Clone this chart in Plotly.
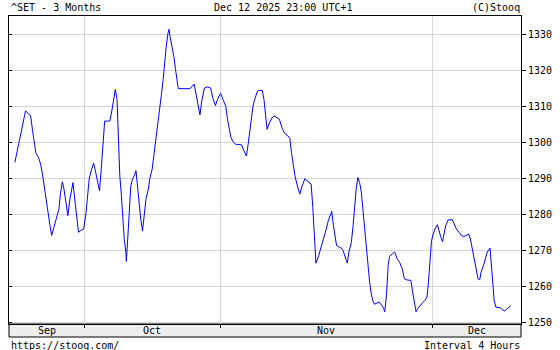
import plotly.graph_objects as go

# ---- data ----
# bar position (one unit = one 4-hour bar, first bar = 0) and index level
bar = [0.0, 3.1, 3.5, 4.6, 5.1, 5.7, 6.1, 6.9, 7.5, 8.1, 8.8, 9.5, 10.2, 10.7, 11.4,
       12.1, 12.8, 13.3, 13.8, 14.3, 14.9, 15.4, 16.0, 16.9, 17.3, 18.0, 18.5, 19.2,
       20.0, 20.7, 21.1, 21.6, 22.3, 22.9, 23.5, 24.2, 24.6, 25.1, 25.6, 26.1, 26.9,
       27.6, 28.0, 28.5, 28.9, 29.2, 29.7, 30.0, 30.5, 30.9, 31.3, 31.8, 32.3, 32.4,
       32.8, 33.2, 33.7, 34.2, 34.8, 35.2, 35.6, 36.1, 36.6, 37.1, 37.5, 38.1, 38.8,
       39.2, 39.9, 40.4, 40.9, 41.6, 42.1, 42.6, 43.1, 43.5, 44.0, 44.5, 44.8, 45.1,
       45.7, 46.2, 46.7, 47.1, 47.5, 50.9, 52.1, 52.6, 53.2, 53.8, 54.3, 55.1, 56.0,
       56.9, 57.5, 58.3, 58.9, 59.8, 60.5, 61.3, 61.8, 62.3, 62.8, 63.5, 64.2, 64.9,
       65.9, 66.6, 67.3, 67.8, 68.3, 68.8, 69.2, 69.7, 70.5, 71.1, 71.9, 72.4, 72.9,
       73.3, 74.0, 74.7, 75.4, 76.2, 76.9, 77.3, 77.8, 78.5, 79.2, 79.9, 80.4, 80.9,
       81.4, 82.1, 82.8, 83.5, 84.3, 84.9, 85.6, 86.1, 86.6, 87.1, 87.5, 88.3, 88.9,
       89.7, 90.5, 91.1, 92.1, 92.6, 93.1, 93.5, 94.3, 94.9, 95.4, 95.9, 96.6, 97.1,
       97.8, 98.3, 98.8, 99.2, 99.7, 100.2, 100.7, 101.1, 101.6, 102.1, 102.6, 103.1,
       103.5, 104.0, 104.5, 105.1, 105.9, 106.6, 107.1, 107.5, 108.0, 108.5, 108.9,
       109.7, 110.4, 111.1, 111.8, 112.6, 113.2, 113.7, 114.5, 115.1, 115.6, 116.1,
       116.6, 117.1, 117.8, 118.5, 119.2, 119.8, 120.2, 120.7, 121.1, 121.6, 122.1,
       122.8, 123.3, 123.8, 124.3, 124.8, 125.2, 125.9, 126.7, 127.1, 127.7, 128.3,
       129.1, 129.8, 130.5, 131.2, 131.9, 132.4, 132.9, 133.6, 134.1, 134.6, 135.1,
       135.5, 136.2, 136.8, 137.3, 138.1, 138.4, 138.9, 139.3, 139.8, 140.3, 141.1,
       141.7, 142.4, 142.9, 143.6, 144.1]

value = [1294.5, 1308.8, 1308.5, 1307.4, 1303.7, 1299.0, 1297.2, 1295.8, 1294.0, 1290.8,
         1286.2, 1280.6, 1277.0, 1274.2, 1276.5, 1278.8, 1281.5, 1286.2, 1289.1, 1287.0,
         1282.5, 1279.7, 1284.3, 1288.9, 1285.2, 1279.2, 1275.1, 1275.6, 1276.0, 1280.6,
         1285.2, 1289.9, 1292.6, 1294.3, 1291.7, 1288.9, 1286.6, 1292.6, 1300.0, 1306.0,
         1306.0, 1306.0, 1307.8, 1311.0, 1313.4, 1314.8, 1312.0, 1301.4, 1290.8, 1286.2,
         1279.2, 1273.2, 1269.1, 1267.0, 1273.2, 1281.0, 1288.0, 1289.9, 1291.0, 1292.2,
         1288.0, 1282.5, 1278.8, 1275.4, 1278.8, 1284.3, 1287.1, 1289.9, 1292.6, 1296.3,
         1300.0, 1304.6, 1309.2, 1313.4, 1317.5, 1322.1, 1326.8, 1330.4, 1331.5, 1329.5,
         1326.8, 1324.0, 1320.3, 1317.5, 1315.0, 1315.0, 1316.3, 1313.8, 1310.1, 1307.7,
         1311.5, 1315.2, 1315.5, 1315.2, 1312.5, 1310.3, 1312.0, 1313.7, 1312.0, 1310.1,
         1306.5, 1303.7, 1301.4, 1300.2, 1299.5, 1299.5, 1299.4, 1297.7, 1296.3, 1299.5,
         1303.7, 1307.8, 1310.1, 1312.0, 1314.3, 1314.5, 1314.5, 1312.0, 1307.4, 1303.7,
         1305.5, 1306.9, 1307.4, 1307.0, 1306.5, 1305.1, 1303.7, 1302.5, 1301.8, 1301.4,
         1297.2, 1293.5, 1290.8, 1288.0, 1285.7, 1288.0, 1290.0, 1289.4, 1288.9, 1288.5,
         1282.0, 1273.2, 1266.5, 1268.6, 1270.5, 1273.2, 1276.0, 1278.3, 1280.9, 1276.9,
         1274.2, 1271.4, 1270.9, 1270.7, 1270.0, 1268.6, 1266.5, 1269.6, 1272.3, 1276.9,
         1283.0, 1287.1, 1290.3, 1288.9, 1286.2, 1282.0, 1276.0, 1270.5, 1265.9, 1261.3,
         1258.5, 1256.2, 1255.1, 1255.4, 1255.7, 1254.8, 1254.1, 1253.0, 1257.6, 1265.9,
         1268.4, 1269.1, 1269.6, 1267.7, 1266.8, 1264.9, 1262.2, 1261.9, 1261.9, 1261.7,
         1258.5, 1255.3, 1253.0, 1253.9, 1254.8, 1255.5, 1256.2, 1257.1, 1261.3, 1267.7,
         1272.8, 1274.6, 1276.0, 1277.2, 1275.1, 1273.7, 1272.5, 1275.0, 1276.9, 1278.5,
         1278.7, 1278.6, 1277.4, 1276.0, 1275.1, 1274.2, 1273.9, 1274.2, 1274.6, 1273.2,
         1270.9, 1267.7, 1264.5, 1262.2, 1261.9, 1264.0, 1265.9, 1268.2, 1269.6, 1270.7,
         1266.8, 1260.3, 1256.2, 1254.3, 1254.2, 1254.1, 1253.6, 1253.2, 1253.7, 1254.1,
         1254.6]

month_names = ["Sep", "Oct", "Nov", "Dec"]
month_start = [20.2, 59.7, 121.3]          # bar position where Oct, Nov, Dec begin
y_ticks = [1250, 1260, 1270, 1280, 1290, 1300, 1310, 1320, 1330]

title_left = "^SET - 3 Months"
title_mid = "Dec 12 2025 23:00 UTC+1"
title_right = "(C)Stooq"
foot_left = "https://stooq.com/"
foot_right = "Interval 4 Hours"

# ---- layout constants ----
W, H = 560, 350
L, R, T, B = 8, 31, 16, 26
PW, PH = W - L - R, H - T - B
X_RANGE = [-1.7, 147.1]
Y_RANGE = [1249.6, 1335.2]
FONT = "DejaVu Sans Mono"
GRID = "#d6d6d6"


def px_x(px):
    return (px - L) / PW


def px_y(py):
    return (H - B - py) / PH


fig = go.Figure()
fig.add_trace(go.Scatter(x=bar, y=value, mode="lines",
                         line=dict(color="#0000ff", width=1),
                         hoverinfo="skip", showlegend=False))
fig.add_trace(go.Scatter(x=[], y=[], yaxis="y2", showlegend=False, hoverinfo="skip"))

edges = [X_RANGE[0]] + month_start + [X_RANGE[1]]
centers = [(a + b) / 2 for a, b in zip(edges[:-1], edges[1:])]

annotations = []
for name, cx in zip(month_names, centers):
    annotations.append(dict(x=cx, xref="x", y=px_y(330.5), yref="paper", text=name,
                            showarrow=False, xanchor="center", yanchor="middle",
                            font=dict(family=FONT, size=10, color="black")))

for txt, xp, anchor, yp in [(title_left, 8, "left", 7.5), (title_mid, 286.5, "center", 7.5),
                            (title_right, 530, "right", 7.5), (foot_left, 8, "left", 345.5),
                            (foot_right, 530, "right", 345.5)]:
    annotations.append(dict(x=px_x(xp), xref="paper", y=px_y(yp), yref="paper", text=txt,
                            showarrow=False, xanchor=anchor, yanchor="middle",
                            font=dict(family=FONT, size=10, color="black")))

band = dict(type="rect", xref="paper", yref="paper", x0=0, x1=1,
            y0=px_y(337), y1=0, fillcolor="#eeeeee",
            line=dict(color="black", width=1), layer="below")

fig.update_layout(
    width=W, height=H,
    margin=dict(l=L, r=R, t=T, b=B, pad=0),
    paper_bgcolor="white", plot_bgcolor="white",
    showlegend=False,
    xaxis=dict(range=X_RANGE, tickvals=month_start, ticktext=["" for _ in month_start],
               ticks="outside", ticklen=3, tickcolor="black",
               showgrid=True, gridcolor=GRID, gridwidth=1, zeroline=False,
               showline=True, mirror=True, linecolor="black", linewidth=1,
               fixedrange=True),
    yaxis=dict(range=Y_RANGE, tickvals=y_ticks, side="right",
               ticks="outside", ticklen=4, tickcolor="black",
               tickfont=dict(family=FONT, size=10, color="black"),
               showgrid=True, gridcolor=GRID, gridwidth=1, zeroline=False,
               showline=True, mirror=True, linecolor="black", linewidth=1,
               fixedrange=True),
    yaxis2=dict(range=Y_RANGE, tickvals=y_ticks, overlaying="y", side="left",
                ticks="inside", ticklen=3, tickcolor="black", showticklabels=False,
                showgrid=False, zeroline=False, showline=False, fixedrange=True),
    annotations=annotations,
    shapes=[band],
)

fig.write_html("out.html")
